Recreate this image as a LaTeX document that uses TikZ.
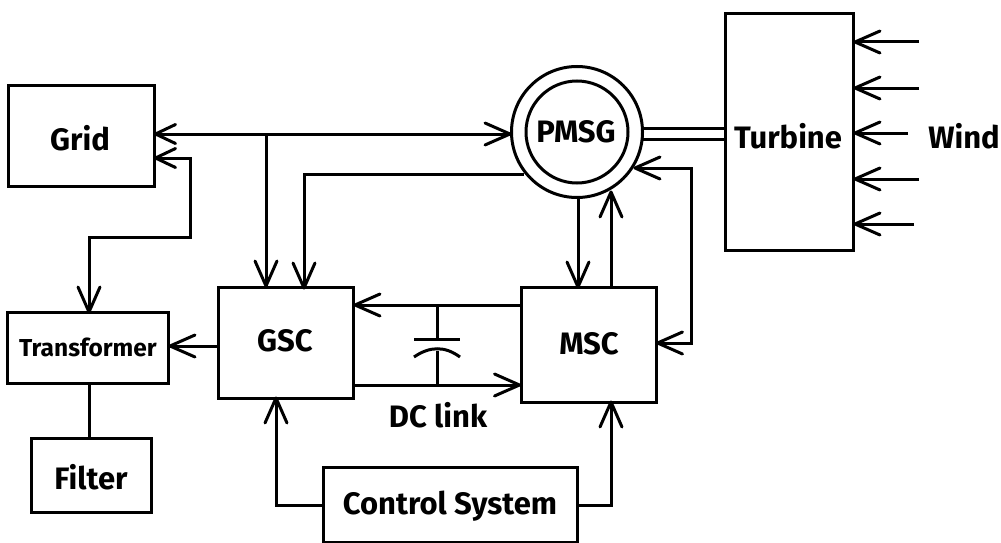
\documentclass[tikz,border=0pt]{standalone}
\usepackage{fontspec}
\setmainfont{Fira Sans}
\usetikzlibrary{arrows.meta}
\pgfdeclarearrow{
  name=OpenV,
  parameters={\the\pgfarrowlength,\the\pgfarrowwidth},
  setup code={
    \pgfarrowssettipend{0pt}
    \pgfarrowssetbackend{-\pgfarrowlength}
    \pgfarrowssetlineend{-1pt}
    \pgfarrowssavethe\pgfarrowlength
    \pgfarrowssavethe\pgfarrowwidth
  },
  drawing code={
    \pgfsetdash{}{0pt}
    \pgfsetroundjoin
    \pgfsetroundcap
    \pgfpathmoveto{\pgfpoint{-\pgfarrowlength}{.5\pgfarrowwidth}}
    \pgfpathlineto{\pgfpointorigin}
    \pgfpathlineto{\pgfpoint{-\pgfarrowlength}{-.5\pgfarrowwidth}}
    \pgfusepathqstroke
  },
  defaults={length=25pt,width=22pt}
}
\tikzset{
  x=1pt,y=-1pt,
  big/.style={font=\fontsize{31}{34}\selectfont\bfseries},
  box/.style={draw=black,line width=3pt,inner sep=0pt,big},
  conn/.style={draw=black,line width=3pt},
  arr/.style={conn,-{OpenV}},
  darr/.style={conn,{OpenV}-{OpenV}},
  gridarr/.style={conn,{OpenV[length=20pt,width=19pt]}-{OpenV}},
  lab/.style={inner sep=0pt,big}
}
\begin{document}
\begin{tikzpicture}
\useasboundingbox (0,0) rectangle (1001,543);
\node[box,minimum width=146pt,minimum height=101pt] (grid) at (81,136) {};
\node[lab] (gridt) at (80,138) {Grid};
\node[box,minimum width=161pt,minimum height=71pt] (trans) at (88,348) {};
\node[inner sep=0pt,font=\fontsize{24.5}{27}\selectfont\bfseries] (transt) at (88,347) {Transformer};
\node[box,minimum width=120pt,minimum height=74pt] (filter) at (91,475) {};
\node[lab] (filtert) at (91,477) {Filter};
\node[box,minimum width=135pt,minimum height=111pt] (gsc) at (286,343) {};
\node[lab] (gsct) at (285,341) {GSC};
\node[box,minimum width=135pt,minimum height=115pt] (msc) at (588.5,344.5) {};
\node[lab] (msct) at (589,344) {MSC};
\node[box,minimum width=254pt,minimum height=75pt] (ctrl) at (450,505) {};
\node[lab] (ctrlt) at (450,506) {Control System};
\node[box,minimum width=128pt,minimum height=237pt] (turb) at (789,132) {};
\node[lab] (turbt) at (788,136) {Turbine};
\node[draw,line width=3pt,circle,minimum size=131pt,inner sep=0pt] (po) at (577,132) {};
\node[draw,line width=3pt,circle,minimum size=102pt,inner sep=0pt] (pmsg) at (577,132) {};
\node[lab] (pmsgt) at (576,132) {PMSG};
\node[lab] (wind) at (964,136) {Wind};
\node[lab] (dc) at (438,415) {DC link};
\coordinate (j1) at (266,134);
\coordinate (w1) at (919,42);
\coordinate (w2) at (919,88);
\coordinate (w3) at (908,133);
\coordinate (w4) at (919,179);
\coordinate (w5) at (914,224);
\draw[gridarr] (grid.east |- j1) -- (po.west |- j1);
\draw[arr] (j1) -- (j1 |- gsc.north);
\draw[arr] (524,174) -- (304,174) -- (304,288);
\draw[gridarr] (grid.east |- 0,158) -- (190,158) -- (190,237) -- (89,237) -- (89,312);
\draw[arr] (gsc.west |- 0,346) -- (trans.east |- 0,346);
\draw[conn] (89,383) -- (89,438);
\draw[arr] (578,198) -- (578,287);
\draw[arr] (611,287) -- (611,192);
\draw[arr] (msc.west |- 0,305) -- (gsc.east |- 0,305);
\draw[arr] (gsc.east |- 0,385) -- (msc.west |- 0,385);
\draw[conn] (437,305) -- (437,339);
\draw[conn] (437,351) -- (437,385);
\draw[conn] (414,339) -- (460,339);
\draw[conn] (414,357) .. controls (430,346) and (445,346) .. (460,357);
\draw[darr] (635,168) -- (691,168) -- (691,343) -- (msc.east |- 0,343);
\draw[arr] (ctrl.west |- 0,505) -- (276,505) -- (276,398);
\draw[arr] (ctrl.east |- 0,505) -- (611,505) -- (611,402);
\draw[conn] (642,128) -- (725,128);
\draw[conn] (642,139) -- (725,139);
\draw[arr] (w1) -- (855,42);
\draw[arr] (w2) -- (855,88);
\draw[arr] (w3) -- (855,133);
\draw[arr] (w4) -- (855,179);
\draw[arr] (w5) -- (855,224);
\end{tikzpicture}
\end{document}
